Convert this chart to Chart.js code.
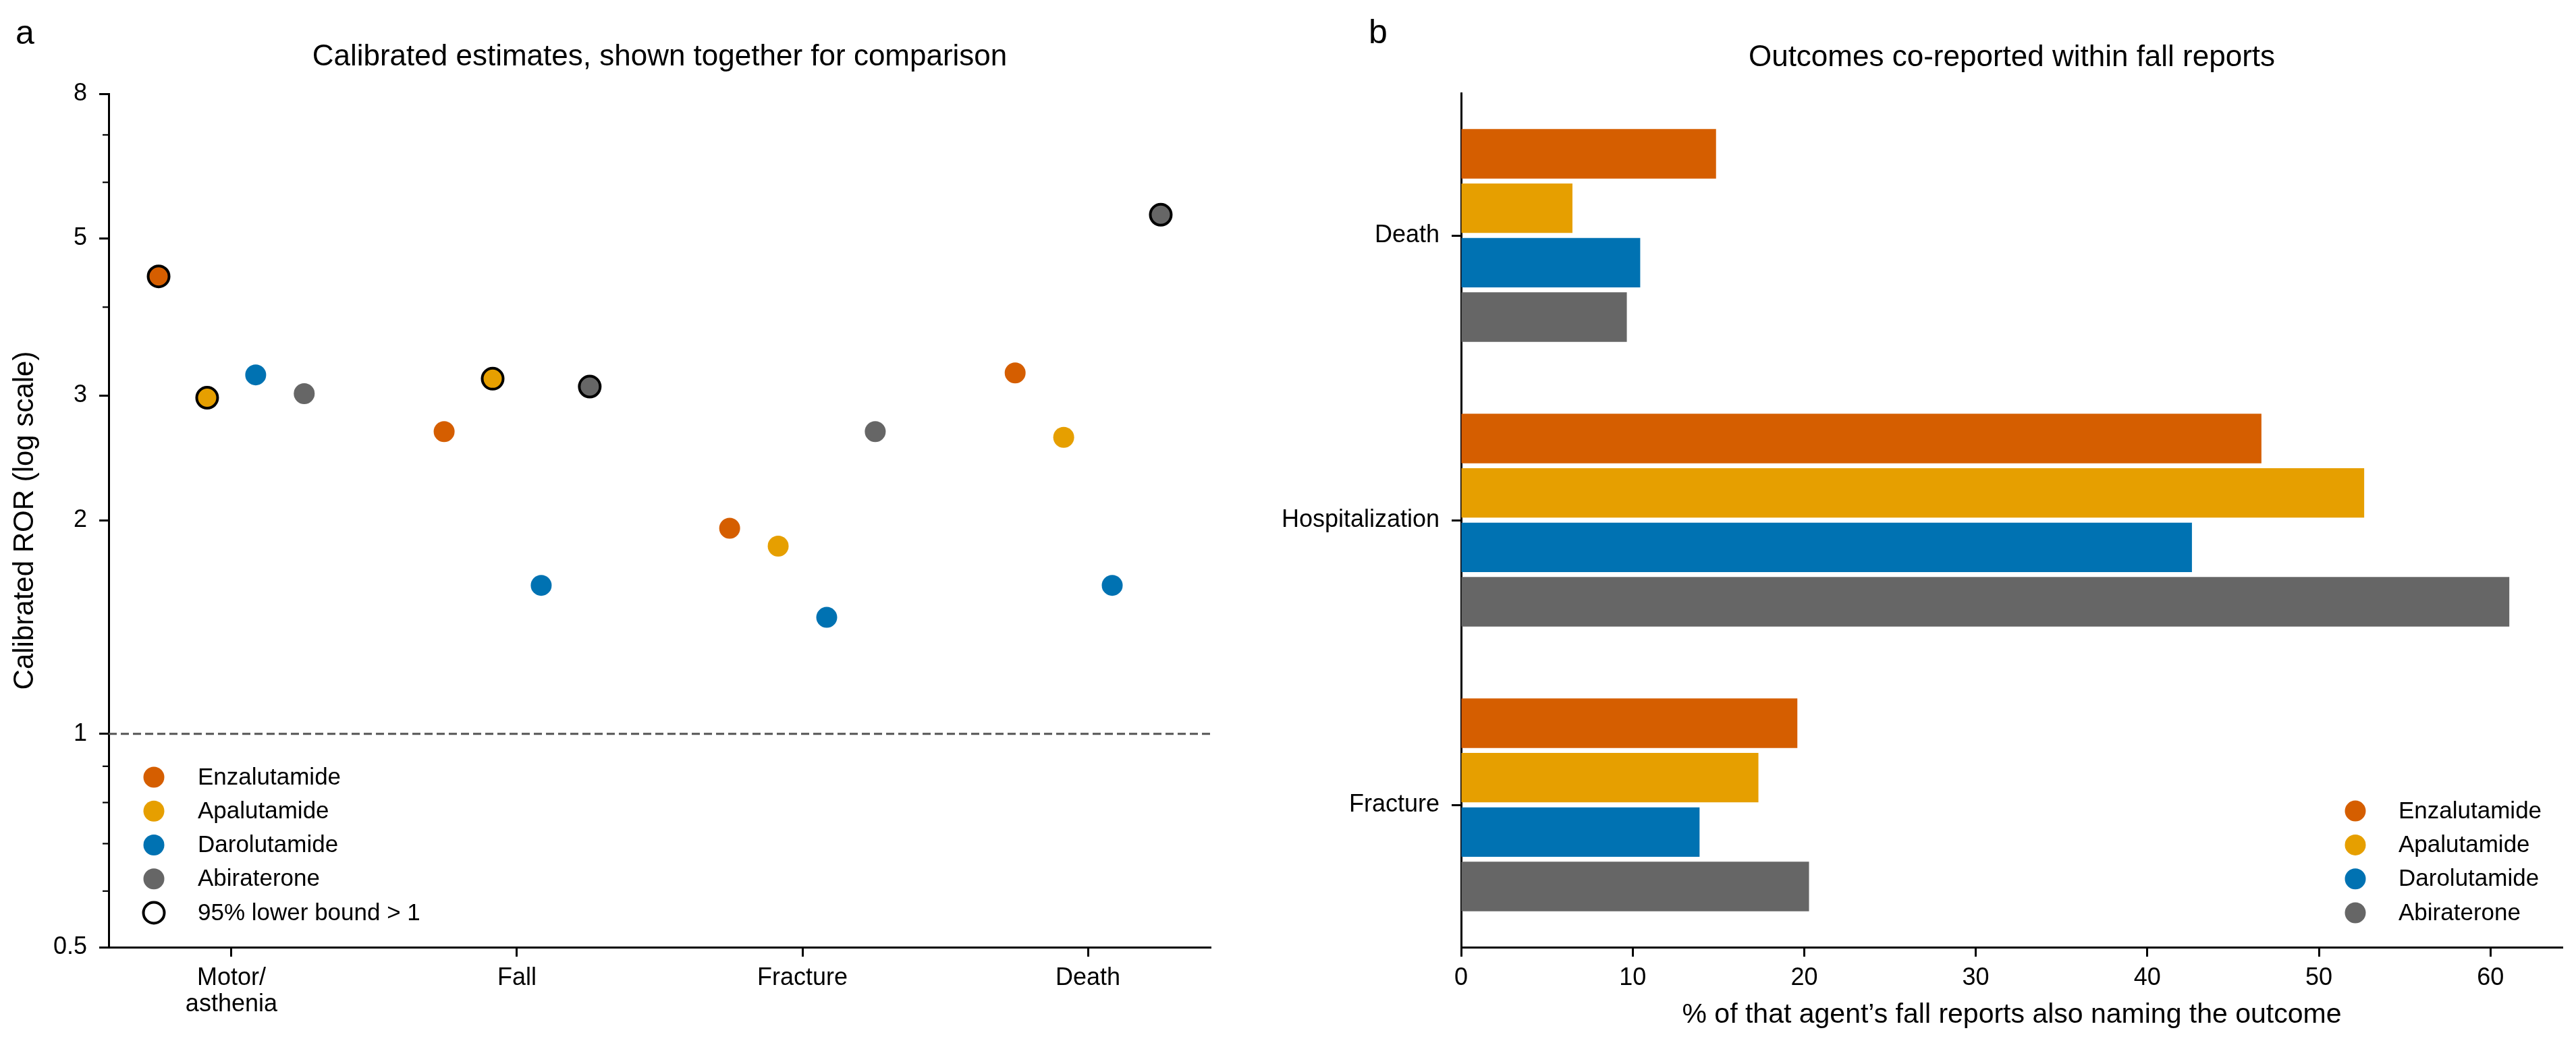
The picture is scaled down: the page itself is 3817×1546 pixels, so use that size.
<!DOCTYPE html>
<html>
<head>
<meta charset="utf-8">
<title>Calibrated estimates and co-reported outcomes</title>
<script src="https://cdn.jsdelivr.net/npm/chart.js@4.4.1/dist/chart.umd.min.js"></script>
<style>
	html, body { margin: 0; padding: 0; background: #ffffff; overflow: hidden; }
	body { width: 3817px; height: 1546px; position: relative; }
	canvas { position: absolute; top: 0; }
	#chartA { left: 0; }
	#chartB { left: 1850px; }
</style>
</head>
<body>
<canvas id="chartA" width="1850" height="1546"></canvas>
<canvas id="chartB" width="1967" height="1546"></canvas>
<script>
'use strict';

// ---- shared ----
const agents = ['Enzalutamide', 'Apalutamide', 'Darolutamide', 'Abiraterone'];
const agentColors = ['#D55E00', '#E69F00', '#0072B2', '#666666'];

// ---- panel a : calibrated ROR per event ----
const events = [['Motor/', 'asthenia'], 'Fall', 'Fracture', 'Death'];
const enzaRor = [4.42, 2.67, 1.95, 3.23];
const apaRor = [2.98, 3.17, 1.84, 2.62];
const daroRor = [3.21, 1.62, 1.46, 1.62];
const abiRor = [3.02, 3.09, 2.67, 5.40];
// 95% lower bound > 1
const enzaSignal = [true, false, false, false];
const apaSignal = [true, true, false, false];
const daroSignal = [false, false, false, false];
const abiSignal = [false, true, false, true];
const rorTicks = [0.5, 1, 2, 3, 5, 8];
const rorMinorTicks = [0.6, 0.7, 0.8, 0.9, 4, 6, 7];

// ---- panel b : % of fall reports naming the outcome ----
const outcomes = ['Death', 'Hospitalization', 'Fracture'];
const enzaPct = [14.86, 46.65, 19.60];
const apaPct = [6.49, 52.64, 17.33];
const daroPct = [10.44, 42.60, 13.90];
const abiPct = [9.66, 61.10, 20.28];
const pctTicks = [0, 10, 20, 30, 40, 50, 60];

const rorSeries = [enzaRor, apaRor, daroRor, abiRor];
const signalSeries = [enzaSignal, apaSignal, daroSignal, abiSignal];
const pctSeries = [enzaPct, apaPct, daroPct, abiPct];

// dodge of the four agents inside one event (category units)
const dodge = [-0.255, -0.085, 0.085, 0.255];
const xMin = -0.43;
const xMax = 3.43;

const FONT = "'Liberation Sans', Arial, Helvetica, sans-serif";
Chart.defaults.font.family = FONT;
Chart.defaults.font.size = 36;
Chart.defaults.color = '#000000';

const panelLetter = {
	id: 'panelLetter',
	afterDraw(chart, args, opts) {
		const ctx = chart.ctx;
		ctx.save();
		ctx.font = `${ opts.size }px ${ FONT }`;
		ctx.fillStyle = '#000000';
		ctx.textBaseline = 'alphabetic';
		ctx.textAlign = 'left';
		ctx.fillText(opts.text, opts.x, opts.y);
		ctx.restore();
	}
};

// matplotlib-like legend sitting inside the axes
// (items kept in the closure, not in chart options, so nothing gets resolved as scriptable)
const makeDotLegend = function (cfg) {
	return {
		id: 'dotLegend',
		afterDraw(chart) {
			const ctx = chart.ctx;
			const area = chart.chartArea;
			const x = cfg.anchor === 'right' ? area.right - cfg.inset : area.left + cfg.inset;
			const n = cfg.items.length;
			ctx.save();
			ctx.font = `${ cfg.size }px ${ FONT }`;
			ctx.textBaseline = 'middle';
			ctx.textAlign = 'left';
			cfg.items.forEach(function (item, idx) {
				const y = area.bottom - cfg.bottom - (n - 1 - idx) * cfg.rowGap;
				ctx.beginPath();
				ctx.arc(x, y, cfg.radius, 0, Math.PI * 2);
				ctx.closePath();
				if (item.hollow) {
					ctx.lineWidth = 4;
					ctx.strokeStyle = '#000000';
					ctx.stroke();
				} else {
					ctx.fillStyle = item.color;
					ctx.fill();
				}
				ctx.fillStyle = '#000000';
				ctx.fillText(item.label, x + cfg.textGap, y + 1);
			});
			ctx.restore();
		}
	};
};

const minorTicks = {
	id: 'minorTicks',
	afterDraw(chart, args, opts) {
		const scale = chart.scales.y;
		const ctx = chart.ctx;
		const left = chart.chartArea.left;
		ctx.save();
		ctx.strokeStyle = '#000000';
		ctx.lineWidth = 2.2;
		opts.values.forEach(function (v) {
			const y = scale.getPixelForValue(v);
			ctx.beginPath();
			ctx.moveTo(left - 9, y);
			ctx.lineTo(left, y);
			ctx.stroke();
		});
		ctx.restore();
	}
};

const axisGrid = {
	display: true,
	drawOnChartArea: false,
	drawTicks: true,
	tickLength: 14,
	tickWidth: 3,
	tickColor: '#000000'
};
const axisBorder = { display: true, color: '#000000', width: 3 };

const agentItems = agents.map((name, k) => ({ label: name, color: agentColors[k] }));

// ---------------- panel a ----------------
const scatterSets = agents.map(function (name, k) {
	return {
		label: name,
		data: rorSeries[k].map((v, i) => ({ x: i + dodge[k], y: v })),
		pointBackgroundColor: agentColors[k],
		backgroundColor: agentColors[k],
		pointBorderColor: '#000000',
		pointBorderWidth: ctx => (signalSeries[k][ctx.dataIndex] ? 4 : 0),
		pointRadius: 15.5,
		pointHoverRadius: 15.5,
		order: 1
	};
});
scatterSets.push({
	type: 'line',
	label: 'ROR = 1',
	data: [ { x: xMin, y: 1 }, { x: xMax, y: 1 } ],
	borderColor: '#555555',
	borderWidth: 3,
	borderDash: [ 12, 6 ],
	pointRadius: 0,
	fill: false,
	order: 10
});

new Chart(document.getElementById('chartA'), {
	type: 'scatter',
	data: { datasets: scatterSets },
	plugins: [
		panelLetter,
		minorTicks,
		makeDotLegend({
			anchor: 'left',
			inset: 67,
			bottom: 51,
			rowGap: 50.25,
			textGap: 65,
			radius: 15.5,
			size: 35,
			items: agentItems.concat([ { label: '95% lower bound > 1', hollow: true } ])
		})
	],
	options: {
		responsive: false,
		animation: false,
		devicePixelRatio: 1,
		events: [],
		layout: { padding: { top: 0, right: 56, bottom: 0, left: 0 } },
		plugins: {
			legend: { display: false },
			tooltip: { enabled: false },
			title: {
				display: true,
				fullSize: false,
				text: 'Calibrated estimates, shown together for comparison',
				color: '#000000',
				font: { size: 44, weight: 'normal', lineHeight: 1.2 },
				padding: { top: 58.6, bottom: 27.6 }
			},
			panelLetter: { text: 'a', x: 23, y: 65, size: 50 },
			minorTicks: { values: rorMinorTicks }
		},
		scales: {
			x: {
				type: 'linear',
				min: xMin,
				max: xMax,
				afterBuildTicks: s => { s.ticks = events.map((e, i) => ({ value: i })); },
				afterFit: s => { s.height = 142; },
				ticks: {
					callback: v => events[v],
					font: { size: 36, lineHeight: 1.1 },
					padding: 12,
					maxRotation: 0,
					autoSkip: false
				},
				grid: axisGrid,
				border: axisBorder
			},
			y: {
				type: 'logarithmic',
				min: 0.5,
				max: 8,
				afterBuildTicks: s => { s.ticks = rorTicks.map(v => ({ value: v })); },
				afterFit: s => { s.width = 161; },
				ticks: {
					callback: v => String(v),
					font: { size: 36 },
					padding: 18,
					autoSkip: false
				},
				title: {
					display: true,
					text: 'Calibrated ROR (log scale)',
					color: '#000000',
					font: { size: 42, lineHeight: 1.2 },
					padding: { top: 12, bottom: 0 }
				},
				grid: axisGrid,
				border: axisBorder
			}
		}
	}
});

// ---------------- panel b ----------------
new Chart(document.getElementById('chartB'), {
	type: 'bar',
	data: {
		labels: outcomes,
		datasets: agents.map(function (name, k) {
			return {
				label: name,
				data: pctSeries[k],
				backgroundColor: agentColors[k],
				borderWidth: 0,
				categoryPercentage: 0.765,
				barPercentage: 0.91
			};
		})
	},
	plugins: [
		panelLetter,
		makeDotLegend({
			anchor: 'right',
			inset: 307,
			bottom: 51,
			rowGap: 50.3,
			textGap: 64,
			radius: 15.5,
			size: 35,
			items: agentItems
		})
	],
	options: {
		indexAxis: 'y',
		responsive: false,
		animation: false,
		devicePixelRatio: 1,
		events: [],
		layout: { padding: { top: 0, right: 20, bottom: 0, left: 0 } },
		plugins: {
			legend: { display: false },
			tooltip: { enabled: false },
			title: {
				display: true,
				fullSize: false,
				text: 'Outcomes co-reported within fall reports',
				color: '#000000',
				font: { size: 44, weight: 'normal', lineHeight: 1.2 },
				padding: { top: 59.6, bottom: 25.6 }
			},
			panelLetter: { text: 'b', x: 178, y: 64, size: 50 }
		},
		scales: {
			x: {
				type: 'linear',
				min: 0,
				max: 64.2,
				afterBuildTicks: s => { s.ticks = pctTicks.map(v => ({ value: v })); },
				afterFit: s => { s.height = 142; },
				ticks: {
					callback: v => String(v),
					font: { size: 36, lineHeight: 1.1 },
					padding: 12,
					maxRotation: 0,
					autoSkip: false
				},
				title: {
					display: true,
					text: '% of that agent\u2019s fall reports also naming the outcome',
					color: '#000000',
					font: { size: 41, lineHeight: 1.2 },
					padding: { top: 0, bottom: 16.4 }
				},
				grid: axisGrid,
				border: axisBorder
			},
			y: {
				type: 'category',
				afterFit: s => { s.width = 315; },
				ticks: {
					font: { size: 36 },
					padding: 18,
					autoSkip: false
				},
				grid: Object.assign({}, axisGrid, { offset: false }),
				border: axisBorder
			}
		}
	}
});
</script>
</body>
</html>
